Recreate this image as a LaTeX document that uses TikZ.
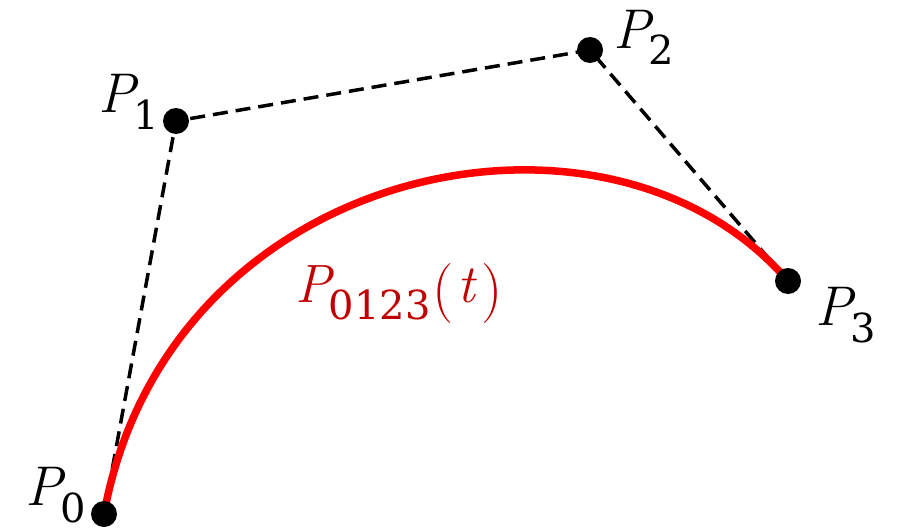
\documentclass[tikz,border=0pt]{standalone}
\usepackage{fontspec}
\newfontfamily\digfont{DejaVu Serif}
\usetikzlibrary{calc}
\definecolor{lblred}{HTML}{C00000}
\newcommand\subdig[1]{\kern-5pt\raisebox{-17pt}{\fontsize{40}{44}\selectfont\digfont #1}}
\newcommand\bigpar[1]{\raisebox{-6pt}{\fontsize{60}{64}\selectfont #1}}
\begin{document}
\begin{tikzpicture}[x=1pt,y=-1pt,
  dot/.style={circle,fill=black,inner sep=0pt,minimum size=26pt},
  ctrl/.style={draw=black,line width=3.5pt,dash pattern=on 15pt off 8pt},
  bez/.style={draw=red,line width=7.5pt},
  lbl/.style={anchor=base west,inner sep=0pt,font=\fontsize{56}{60}\selectfont}]
\useasboundingbox (0,0) rectangle (897,530);
\coordinate (c0) at (104,514);
\coordinate (c1) at (176,121);
\coordinate (c2) at (590,50);
\coordinate (c3) at (788,281);
\coordinate (k1) at ($(c0)!0.9!(c1)$);
\coordinate (k2) at ($(c3)!0.9!(c2)$);
\draw[ctrl] (c0) -- (c1) -- (c2) -- (c3);
\draw[bez] (c0) .. controls (k1) and (k2) .. (c3);
\node[dot] (p0) at (c0) {};
\node[dot] (p1) at (c1) {};
\node[dot] (p2) at (c2) {};
\node[dot] (p3) at (c3) {};
\node[lbl] (l0) at (25,505) {\textit{P}\subdig{0}};
\node[lbl] (l1) at (98,112) {\textit{P}\subdig{1}};
\node[lbl] (l2) at (613,48) {\textit{P}\subdig{2}};
\node[lbl] (l3) at (815,325) {\textit{P}\subdig{3}};
\node[lbl,text=lblred,font=\fontsize{54}{60}\selectfont] (lc) at (295,302)
  {\textit{P}\subdig{0123}\kern2pt\bigpar{(}\kern4pt\textit{t}\kern4pt\bigpar{)}};
\end{tikzpicture}
\end{document}
